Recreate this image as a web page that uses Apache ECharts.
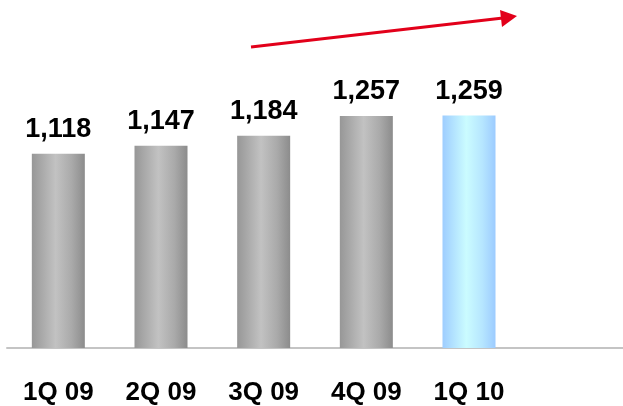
<!DOCTYPE html>
<html>
<head>
<meta charset="utf-8">
<script src="https://cdn.jsdelivr.net/npm/echarts@6/dist/echarts.min.js"></script>
<style>
  html, body { margin: 0; padding: 0; background: #ffffff; }
  #chart { width: 623px; height: 406px; }
</style>
</head>
<body>
<div id="chart"></div>
<script>
// Quarterly figures; the trailing empty slot leaves room on the right of the axis.
const quarters = ['1Q 09', '2Q 09', '3Q 09', '4Q 09', '1Q 10', ''];
const values = [1118, 1147, 1184, 1257, 1259, null];
const highlightIndex = 4;

const grayFill = {
  type: 'linear', x: 0, y: 0, x2: 1, y2: 0,
  colorStops: [
    { offset: 0, color: '#979797' },
    { offset: 0.45, color: '#c2c2c2' },
    { offset: 0.75, color: '#aaaaaa' },
    { offset: 1, color: '#8c8c8c' }
  ]
};
const blueFill = {
  type: 'linear', x: 0, y: 0, x2: 1, y2: 0,
  colorStops: [
    { offset: 0, color: '#9ecdff' },
    { offset: 0.45, color: '#cbfcff' },
    { offset: 0.75, color: '#b6e6ff' },
    { offset: 1, color: '#9ccbff' }
  ]
};

const chart = echarts.init(document.getElementById('chart'), null, { renderer: 'canvas' });

chart.setOption({
  animation: false,
  backgroundColor: '#ffffff',
  grid: { left: 7, right: 0, top: 26, bottom: 57, containLabel: false },
  xAxis: {
    type: 'category',
    data: quarters,
    axisLine: { show: true, lineStyle: { color: '#c4c4c4', width: 2 } },
    axisTick: { show: false },
    axisLabel: {
      margin: 32,
      color: '#000000',
      fontFamily: 'Liberation Sans, Arial, sans-serif',
      fontWeight: 'bold',
      fontSize: 26
    }
  },
  yAxis: {
    type: 'value',
    min: 400,
    max: 1590,
    show: false,
    splitLine: { show: false }
  },
  series: [{
    type: 'bar',
    barWidth: 53,
    data: values.map((v, i) => ({
      value: v,
      itemStyle: { color: i === highlightIndex ? blueFill : grayFill }
    })),
    label: {
      show: true,
      position: 'top',
      distance: 11,
      color: '#000000',
      fontFamily: 'Liberation Sans, Arial, sans-serif',
      fontWeight: 'bold',
      fontSize: 27,
      formatter: p => p.value == null ? '' : p.value.toLocaleString('en-US')
    }
  }],
  graphic: [
    {
      // rising trend arrow
      type: 'line',
      shape: { x1: 251, y1: 47, x2: 503, y2: 18 },
      style: { stroke: '#e2001a', lineWidth: 3 }
    },
    {
      type: 'polygon',
      shape: { points: [[517, 16], [500, 10], [502, 27]] },
      style: { fill: '#e2001a' }
    }
  ]
});
</script>
</body>
</html>
